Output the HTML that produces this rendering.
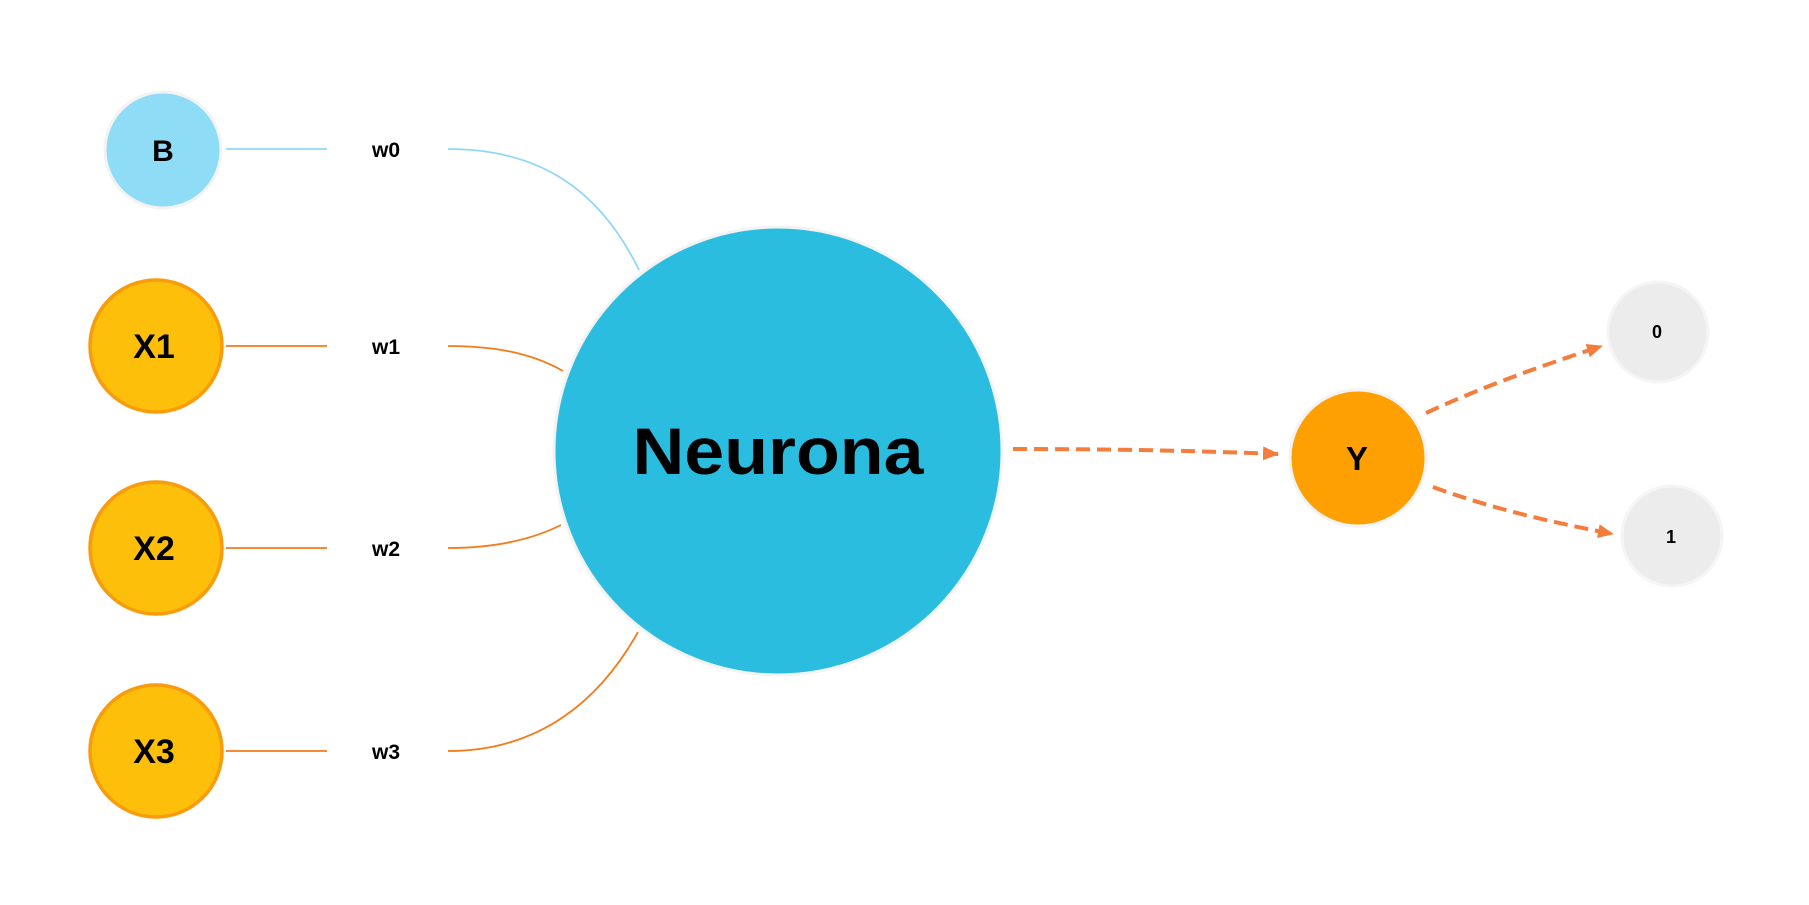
<!DOCTYPE html>
<html><head><meta charset="utf-8"><style>
html,body{margin:0;padding:0;background:#fff;}
svg{display:block;font-family:"Liberation Sans",Arial,sans-serif;font-weight:bold;}
</style></head><body>
<svg width="1809" height="905" viewBox="0 0 1809 905">
<defs>
<marker id="ah" markerWidth="16" markerHeight="14" refX="15" refY="7" orient="auto" markerUnits="userSpaceOnUse" viewBox="0 0 16 14">
<path d="M0,0 L16,7 L0,14 Z" fill="#f47c3c"/>
</marker>
</defs>
<g>
<line x1="226" y1="149" x2="327" y2="149" stroke="#8fd8f5" stroke-width="1.8"/>
<path d="M448,149 C540,149 600,190 639,270" fill="none" stroke="#8fd8f5" stroke-width="1.8"/>
</g>
<g>
<line x1="226" y1="346" x2="327" y2="346" stroke="#f57a1a" stroke-width="1.8"/>
<path d="M448,346 C500,346 535,355 563,371" fill="none" stroke="#f57a1a" stroke-width="1.8"/>
</g>
<g>
<line x1="226" y1="548" x2="327" y2="548" stroke="#f57a1a" stroke-width="1.8"/>
<path d="M448,548 C500,548 535,538 561,525" fill="none" stroke="#f57a1a" stroke-width="1.8"/>
</g>
<g>
<line x1="226" y1="751" x2="327" y2="751" stroke="#f57a1a" stroke-width="1.8"/>
<path d="M448,751 C540,751 600,700 638,632" fill="none" stroke="#f57a1a" stroke-width="1.8"/>
</g>
<text x="386" y="157" font-size="21" text-anchor="middle">w0</text>
<text x="386" y="354" font-size="21" text-anchor="middle">w1</text>
<text x="386" y="556" font-size="21" text-anchor="middle">w2</text>
<text x="386" y="759" font-size="21" text-anchor="middle">w3</text>
<g>
<circle cx="163" cy="150" r="58" fill="#8fdcf7" stroke="#f3f3f3" stroke-width="3"/>
<text x="163" y="161" font-size="30" text-anchor="middle">B</text>
</g>
<g>
<circle cx="156" cy="346" r="66" fill="#fdbf0a" stroke="#f99c0c" stroke-width="3.5"/>
<text x="154" y="358" font-size="34" text-anchor="middle">X1</text>
</g>
<g>
<circle cx="156" cy="548" r="66" fill="#fdbf0a" stroke="#f99c0c" stroke-width="3.5"/>
<text x="154" y="560" font-size="34" text-anchor="middle">X2</text>
</g>
<g>
<circle cx="156" cy="751" r="66" fill="#fdbf0a" stroke="#f99c0c" stroke-width="3.5"/>
<text x="154" y="763" font-size="34" text-anchor="middle">X3</text>
</g>
<g>
<circle cx="778" cy="451" r="224" fill="#2bbde0" stroke="#f3f3f3" stroke-width="3"/>
<text x="778" y="474" font-size="66" text-anchor="middle" textLength="291" lengthAdjust="spacingAndGlyphs">Neurona</text>
</g>
<path d="M1013,449 C1120,449 1200,451 1278,454" fill="none" stroke="#f47c3c" stroke-width="4" stroke-dasharray="14,7" marker-end="url(#ah)"/>
<path d="M1426,413 C1480,388 1540,366 1602,346" fill="none" stroke="#f47c3c" stroke-width="4" stroke-dasharray="14,7" marker-end="url(#ah)"/>
<path d="M1433,487 C1490,508 1550,522 1613,534" fill="none" stroke="#f47c3c" stroke-width="4" stroke-dasharray="14,7" marker-end="url(#ah)"/>
<g>
<circle cx="1358" cy="458" r="68" fill="#fea002" stroke="#f3f3f3" stroke-width="3"/>
<text x="1357" y="470" font-size="33" text-anchor="middle">Y</text>
</g>
<g>
<circle cx="1658" cy="332" r="50" fill="#ececec" stroke="#f5f5f5" stroke-width="3"/>
<text x="1657" y="338" font-size="18" text-anchor="middle">0</text>
</g>
<g>
<circle cx="1672" cy="536" r="50" fill="#ececec" stroke="#f5f5f5" stroke-width="3"/>
<text x="1671" y="543" font-size="18" text-anchor="middle">1</text>
</g>
</svg>
</body></html>
